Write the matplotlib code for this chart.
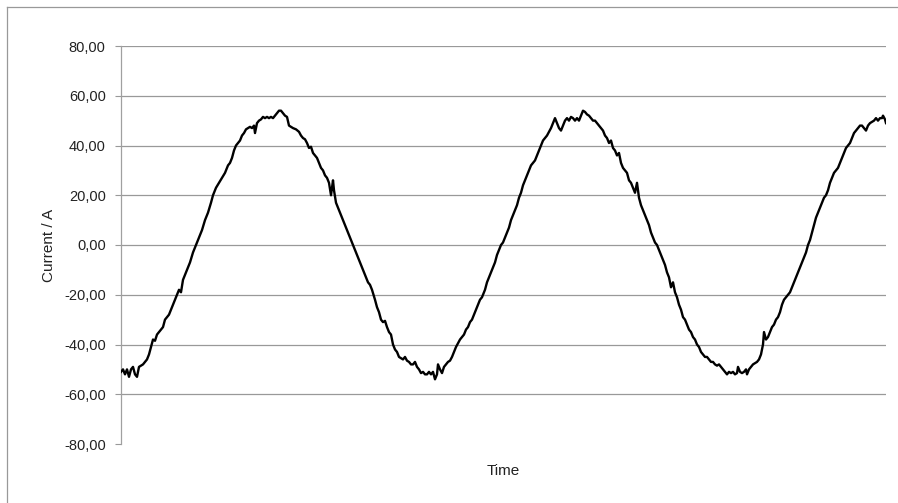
import matplotlib
matplotlib.use("Agg")
import matplotlib.pyplot as plt
from matplotlib.lines import Line2D

plt.rcParams['font.family'] = ['Liberation Sans', 'DejaVu Sans']

# time in chart units (0 = left edge of plot), current
time = [0, 2, 4, 6, 8, 10, 12, 14, 16, 18, 20, 22, 24, 26, 28, 30, 32, 34, 36, 38,
        40, 42, 44, 46, 48, 50, 52, 54, 56, 58, 60, 62, 64, 66, 69, 72, 75, 78, 81, 84,
        87, 90, 92, 95, 98, 101, 104, 107, 109, 111, 113, 115, 117, 119, 121, 123, 125, 127, 129, 131,
        133, 134, 136, 138, 140, 142, 144, 146, 148, 150, 152, 154, 156, 158, 160, 162, 164, 166, 168, 170,
        172, 175, 178, 180, 182, 184, 186, 188, 190, 192, 194, 196, 198, 200, 202, 204, 206, 208, 210, 212,
        213, 215, 217, 219, 221, 223, 226, 229, 232, 235, 238, 241, 244, 247, 249, 251, 254, 256, 258, 260,
        262, 264, 266, 268, 270, 272, 274, 276, 278, 280, 282, 284, 286, 288, 290, 292, 294, 296, 298, 300,
        302, 304, 306, 308, 310, 312, 314, 316, 317, 319, 321, 323, 325, 327, 329, 331, 333, 335, 337, 339,
        341, 343, 345, 347, 349, 351, 353, 355, 357, 359, 361, 362, 364, 366, 368, 370, 372, 374, 376, 378,
        380, 382, 384, 386, 388, 390, 392, 394, 396, 398, 400, 402, 404, 406, 408, 410, 412, 414, 416, 418,
        420, 422, 424, 426, 428, 430, 432, 434, 436, 438, 440, 442, 444, 446, 448, 450, 452, 454, 456, 458,
        460, 462, 464, 466, 468, 470, 472, 474, 476, 478, 480, 482, 484, 486, 488, 490, 492, 494, 496, 498,
        500, 502, 504, 506, 508, 510, 512, 514, 516, 518, 520, 522, 524, 526, 528, 530, 532, 534, 536, 538,
        540, 542, 544, 546, 548, 550, 552, 554, 556, 558, 560, 562, 564, 566, 568, 570, 572, 574, 576, 578,
        580, 582, 584, 586, 588, 590, 592, 594, 596, 598, 600, 602, 604, 606, 608, 610, 612, 614, 616, 617,
        619, 621, 623, 625, 626, 628, 630, 632, 634, 636, 638, 640, 642, 643, 645, 647, 649, 651, 653, 655,
        657, 659, 661, 663, 665, 667, 669, 671, 673, 675, 677, 679, 681, 683, 685, 687, 689, 691, 693, 695,
        697, 699, 701, 703, 705, 707, 709, 711, 713, 715, 717, 719, 721, 723, 725, 727, 729, 731, 733, 735,
        737, 739, 741, 743, 745, 747, 749, 751, 753, 755, 757, 759, 761, 762, 764, 765]
current = [-51, -50, -52, -50, -53, -50, -49, -52, -53, -49, -48.5, -48, -47, -46, -44, -41, -38, -38.5, -36, -35,
           -34, -33, -30, -29, -28, -26, -24, -22, -20, -18, -19, -14, -12, -10, -7, -3, 0, 3, 6, 10,
           13, 17, 20, 23, 25, 27, 29, 32, 33, 35, 38, 40, 41, 42, 44, 45, 46.5, 47, 47.5, 47,
           48, 45, 49, 50, 50.5, 51.5, 51, 51.5, 51, 51.5, 51, 52, 53, 54, 54, 53, 52, 51.5, 48, 47.5,
           47, 46.5, 45.5, 44, 43, 42.5, 41, 39, 39.5, 37, 36, 35, 33, 31, 30, 28, 27, 25, 20, 26,
           22, 17, 15, 13, 11, 9, 6, 3, 0, -3, -6, -9, -12, -15, -16, -18, -22, -25, -27, -30,
           -31, -30.5, -33, -35, -36, -40, -42, -43, -45, -45.5, -46, -45, -46.5, -47, -48, -48, -47, -49, -50, -51.5,
           -51, -52, -52, -51, -52, -51, -54, -52, -48, -50, -51.5, -49, -48, -47, -46.5, -45, -43, -41, -39.5, -38,
           -37, -36, -34, -33, -31, -30, -28, -26, -24, -22, -21, -20, -18, -15, -13, -11, -9, -7, -4, -2,
           0, 1, 3, 5, 7, 10, 12, 14, 16, 19, 21, 24, 26, 28, 30, 32, 33, 34, 36, 38,
           40, 42, 43, 44, 45.5, 47, 49, 51, 49, 47, 46, 48, 50, 51, 50, 51.5, 51, 50, 51, 50,
           52, 54, 53.5, 52.5, 52, 51, 50, 50, 49, 48, 47, 46, 44, 43, 41, 42, 39, 38, 36, 37,
           33, 31, 30, 29, 26, 25, 23, 21, 25, 19, 16, 14, 12, 10, 8, 5, 3, 1, 0, -2,
           -4, -6, -8, -11, -13, -17, -15, -19, -21, -24, -26, -29, -30, -32, -34, -35, -37, -38, -40, -41,
           -43, -44, -45, -45, -46, -47, -47, -48, -48.5, -48, -49, -50, -51, -52, -51, -51.5, -51, -52, -51.5, -49,
           -51, -51.5, -51, -50, -52, -50, -49, -48, -47.5, -47, -46, -44, -40, -35, -38, -37, -35, -33, -32, -30,
           -29, -27, -24, -22, -21, -20, -19, -17, -15, -13, -11, -9, -7, -5, -3, 0, 2, 5, 8, 11,
           13, 15, 17, 19, 20, 22, 25, 27, 29, 30, 31, 33, 35, 37, 39, 40, 41, 43, 45, 46,
           47, 48, 48, 47, 46, 48, 49, 49.5, 50, 51, 50, 51, 51, 52, 50.5, 49]

yticks = [-80, -60, -40, -20, 0, 20, 40, 60, 80]
ylabels = ['-80,00', '-60,00', '-40,00', '-20,00', '0,00', '20,00', '40,00', '60,00', '80,00']

fig = plt.figure(figsize=(8.98, 5.03), dpi=100)
ax = fig.add_axes([121/898, 1-444/503, 765/898, 398/503])

for v in yticks[1:]:
    ax.axhline(v, color='#999999', lw=0.9, zorder=1)
ax.plot(time[:len(current)], current, color='black', lw=1.7, zorder=3)

ax.set_xlim(0, 765)
ax.set_ylim(-80, 80)
ax.set_yticks(yticks)
ax.set_yticklabels(ylabels)
ax.set_xticks([])
ax.tick_params(axis='y', length=4, width=0.8, color='#999999', pad=7,
               labelsize=10.5, labelcolor='#222222')

for s in ['top', 'right', 'bottom']:
    ax.spines[s].set_visible(False)
ax.spines['left'].set_color('#a0a0a0')
ax.spines['left'].set_linewidth(0.9)
ax.spines['left'].set_linestyle((0, (2, 1)))

ax.set_xlabel('Time', fontsize=11, color='#222222')
ax.xaxis.set_label_coords(0.5, -0.05)
ax.set_ylabel('Current / A', fontsize=11, color='#222222')
ax.yaxis.set_label_coords(-0.085, 0.5)

# scanned frame around the figure
fig.add_artist(Line2D([7/898, 7/898], [0, 1-7/503], color='#999999', lw=0.9))
fig.add_artist(Line2D([7/898, 1], [1-7/503, 1-7/503], color='#999999', lw=0.9))

fig.savefig('out.png', dpi=100)
